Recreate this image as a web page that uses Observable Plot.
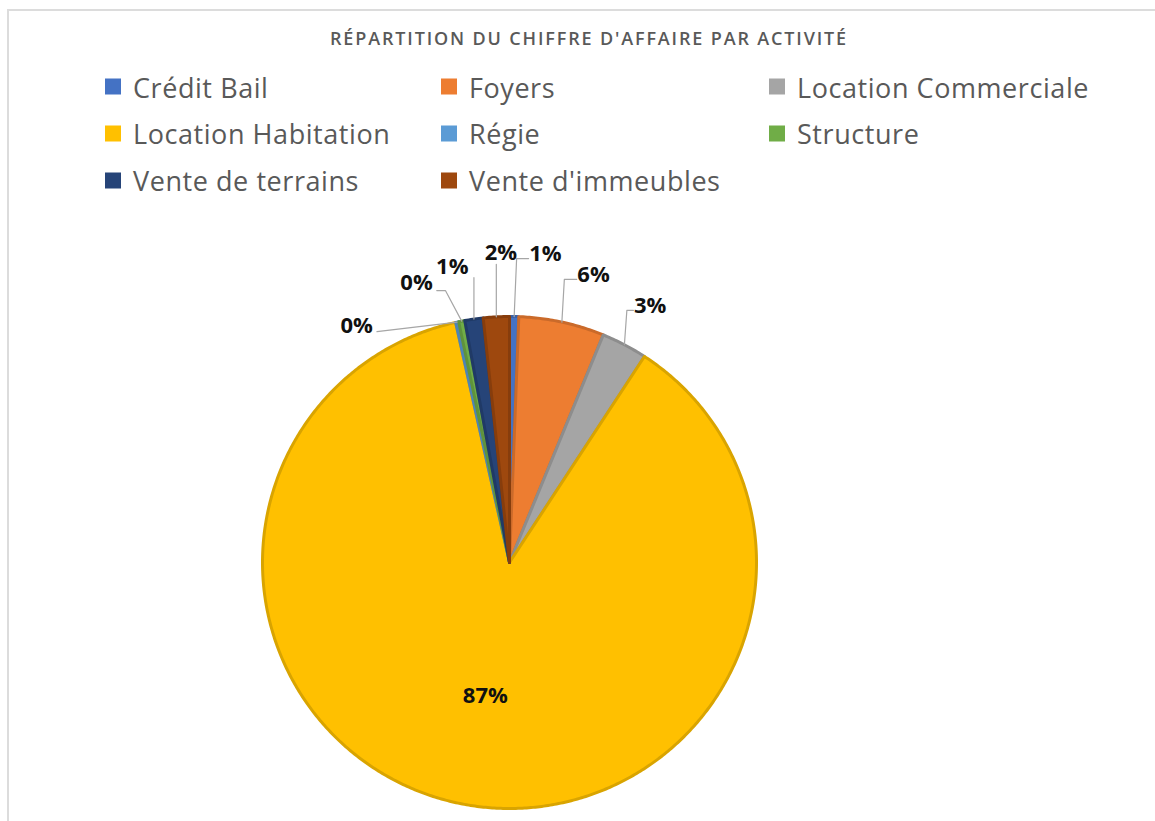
<!DOCTYPE html>
<html>
<head>
<meta charset="utf-8">
<script src="https://cdn.jsdelivr.net/npm/d3@7"></script>
<script src="https://cdn.jsdelivr.net/npm/@observablehq/plot@0.6"></script>
<style>
html, body { margin: 0; padding: 0; background: #fff; }
body { width: 1155px; height: 821px; overflow: hidden; position: relative; font-family: "Open Sans", sans-serif; }
#frame { position: absolute; left: 7px; top: 9px; width: 1170px; height: 830px; border-left: 2px solid #dcdcdc; border-top: 2px solid #dcdcdc; pointer-events: none; }
#header { position: relative; height: 210px; }
#title { position: absolute; top: 26px; left: 589px; transform: translateX(-50%); white-space: nowrap; font-size: 18px; font-weight: 600; color: #595959; }
.item { position: absolute; display: flex; align-items: center; white-space: nowrap; transform: translateY(-50%); }
.sw { width: 16px; height: 16px; margin-right: 12px; flex: none; }
.lab { font-size: 27px; color: #595959; line-height: 1; }
#chart { position: relative; height: 611px; }
</style>
</head>
<body>
<div id="header">
  <div id="title">RÉPARTITION DU CHIFFRE D'AFFAIRE PAR ACTIVITÉ</div>
  <div id="legend"></div>
</div>
<div id="chart"></div>
<div id="frame"></div>
<script>
// ---- data ----
const names = ["Crédit Bail", "Foyers", "Location Commerciale", "Location Habitation", "Régie", "Structure", "Vente de terrains", "Vente d'immeubles"];
const shares = [0.6, 5.6, 3.0, 87.3, 0.2, 0.4, 1.2, 1.7];
const colors = ["#4472C4", "#ED7D31", "#A5A5A5", "#FFC000", "#5B9BD5", "#70AD47", "#264478", "#9E480E"];

// ---- label layout (polar placement of data labels, degrees clockwise from 12 o'clock) ----
const labelLayout = {
  "Crédit Bail": {a: 6.6, r: 1.264, leader: "right"},
  "Foyers": {a: 16.2, r: 1.219, leader: "right"},
  "Location Commerciale": {a: 28.6, r: 1.19, leader: "right"},
  "Location Habitation": {a: null, r: 0.55, leader: "none"},
  "Régie": {a: -32.7, r: 1.145, leader: "straight"},
  "Structure": {a: -18.3, r: 1.199, leader: "left"},
  "Vente de terrains": {a: -10.9, r: 1.225, leader: "up"},
  "Vente d'immeubles": {a: -1.6, r: 1.257, leader: "up"}
};

// ---- legend (HTML) ----
const legendEl = document.getElementById("legend");
const colLeft = [105, 441, 769];
const rowY = [86.5, 133, 180];
names.forEach((n, i) => {
  const it = document.createElement("div");
  it.className = "item";
  it.style.left = colLeft[i % 3] + "px";
  it.style.top = rowY[Math.floor(i / 3)] + "px";
  const sw = document.createElement("div");
  sw.className = "sw";
  sw.style.background = colors[i];
  const lb = document.createElement("span");
  lb.className = "lab";
  lb.textContent = n;
  it.appendChild(sw); it.appendChild(lb);
  legendEl.appendChild(it);
});
function fitSpacing(el, target) {
  el.style.letterSpacing = "0px";
  const w = el.getBoundingClientRect().width;
  const n = el.textContent.length;
  el.style.letterSpacing = ((target - w) / n) + "px";
}
const labs = [...document.querySelectorAll(".lab")];
const refLab = labs[2];
refLab.style.letterSpacing = "0px";
const wRef = refLab.getBoundingClientRect().width;
const lsp = (292 - wRef) / refLab.textContent.length;
labs.forEach(l => l.style.letterSpacing = lsp + "px");
fitSpacing(document.getElementById("title"), 518);

// ---- geometry ----
const total = d3.sum(shares);
let cum = 0;
const slices = names.map((n, i) => {
  const a0 = cum / total * 2 * Math.PI;
  cum += shares[i];
  const a1 = cum / total * 2 * Math.PI;
  return {
    name: n, a0, a1, mid: (a0 + a1) / 2,
    color: colors[i],
    edge: d3.color(colors[i]).darker(0.45).formatHex(),
    label: Math.round(shares[i] / total * 100) + "%"
  };
});
const polar = (ang, r) => ({x: r * Math.sin(ang), y: r * Math.cos(ang)});
const rad = d => d * Math.PI / 180;

const slicePts = slices.flatMap(s => {
  const n = Math.max(2, Math.ceil((s.a1 - s.a0) / (Math.PI / 360)));
  const arr = [{x: 0, y: 0}];
  for (let k = 0; k <= n; k++) arr.push(polar(s.a0 + (s.a1 - s.a0) * k / n, 1));
  arr.push({x: 0, y: 0});
  return arr.map(p => ({...p, name: s.name, color: s.color, edge: s.edge}));
});

const labelPts = slices.map(s => {
  const L = labelLayout[s.name];
  const p = L.a === null ? polar(s.mid, L.r) : polar(rad(L.a), L.r);
  return {...p, name: s.name, label: s.label};
});

const leaderPts = slices.flatMap((s, i) => {
  const L = labelLayout[s.name];
  const lp = labelPts[i];
  const e = polar(s.mid, 1.0);
  let pts = [];
  if (L.leader === "right") {
    pts = [e, {x: e.x + 0.01, y: lp.y - 0.02}, {x: lp.x - 0.068, y: lp.y - 0.02}];
  } else if (L.leader === "up") {
    pts = [e, {x: e.x, y: lp.y - 0.045}];
  } else if (L.leader === "left") {
    pts = [{x: lp.x + 0.082, y: lp.y - 0.033}, {x: lp.x + 0.117, y: lp.y - 0.033}, e];
  } else if (L.leader === "straight") {
    pts = [{x: lp.x + 0.082, y: lp.y - 0.025}, e];
  }
  return pts.map(p => ({...p, name: s.name}));
});

const cx = 509, cyPage = 562, topOff = 210, rx = 247, ry = 246;
const cy = cyPage - topOff;

const plot = Plot.plot({
  width: 1155,
  height: 611,
  x: {domain: [-1, 1], range: [cx - rx, cx + rx], axis: null},
  y: {domain: [-1, 1], range: [cy + ry, cy - ry], axis: null},
  color: {type: "identity"},
  style: {fontFamily: "Open Sans", background: "transparent", overflow: "visible"},
  marks: [
    Plot.line(slicePts, {x: "x", y: "y", z: "name", fill: "color", stroke: "edge", strokeWidth: 3, strokeLinejoin: "round", curve: "linear"}),
    Plot.line(leaderPts, {x: "x", y: "y", z: "name", stroke: "#a6a6a6", strokeWidth: 1.2}),
    Plot.text(labelPts, {x: "x", y: "y", text: "label", fontSize: 22, fontWeight: "bold", fill: "#111111", fontFamily: "Open Sans"})
  ]
});
document.getElementById("chart").appendChild(plot);
</script>
</body>
</html>
